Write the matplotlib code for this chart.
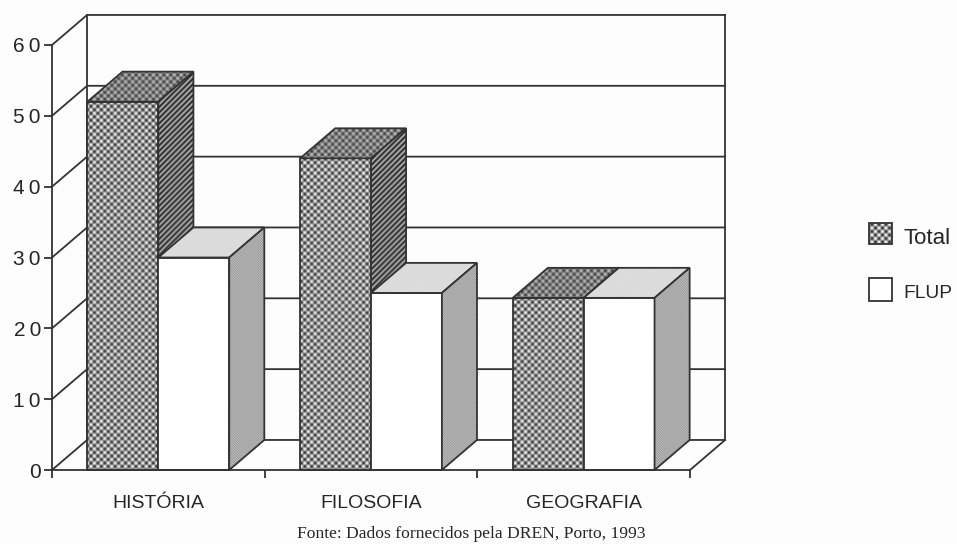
import numpy as np
import matplotlib
matplotlib.use('Agg')
import matplotlib.pyplot as plt
from matplotlib.patches import Polygon

categories = ['HISTÓRIA', 'FILOSOFIA', 'GEOGRAFIA']
total = [52, 44, 24.3]
flup = [30, 25, 24.3]
y_ticks = [0, 10, 20, 30, 40, 50, 60]
y_labels = ['0', '1\u20090', '2\u20090', '3\u20090', '4\u20090', '5\u20090', '6\u20090']
source = 'Fonte: Dados fornecidos pela DREN, Porto, 1993'

W, H = 957, 544
line_c = '#333333'
text_c = '#262626'
lw = 1.3
depth_x = 0.165
depth_y = 4.24
bar_w = 1 / 3
group_off = 1 / 6

plt.rcParams['font.family'] = ['Liberation Sans', 'DejaVu Sans']


def tex_value(kind, px, py):
    if kind == 'dots':
        v = 0.5 + 0.5 * np.cos(2 * np.pi * px / 7) * np.cos(2 * np.pi * py / 7)
        return 0.18 + 0.8 * v
    if kind == 'dots_dark':
        v = 0.5 + 0.5 * np.cos(2 * np.pi * px / 7) * np.cos(2 * np.pi * py / 7)
        return 0.22 + 0.55 * v
    if kind == 'stripes':
        return 0.42 + 0.3 * np.cos(2 * np.pi * (px - py) / 5.5)
    if kind == 'fine_light':
        return 0.86 + 0.07 * np.cos(np.pi * (px + py) * 0.8)
    if kind == 'fine_mid':
        return 0.67 + 0.12 * np.cos(np.pi * (px + py) * 0.8)
    return np.ones_like(px, dtype=float)


def face(ax, verts, kind, z):
    verts = np.array(verts, dtype=float)
    poly = Polygon(verts, closed=True, facecolor='none', edgecolor=line_c,
                   linewidth=lw, zorder=z + 0.1, clip_on=False)
    ax.add_patch(poly)
    x0, x1 = verts[:, 0].min(), verts[:, 0].max()
    y0, y1 = verts[:, 1].min(), verts[:, 1].max()
    (px0, py0), (px1, py1) = ax.transData.transform([(x0, y0), (x1, y1)])
    nx, ny = max(int(px1 - px0), 2), max(int(py1 - py0), 2)
    gx, gy = np.meshgrid(np.linspace(px0, px1, nx), np.linspace(py1, py0, ny))
    im = ax.imshow(tex_value(kind, gx, gy), extent=(x0, x1, y0, y1), aspect='auto',
                   cmap='gray', vmin=0, vmax=1, interpolation='bilinear', zorder=z)
    im.set_clip_path(poly)
    im.set_clip_on(True)


def bar3d(ax, x, h, front, top, side, z):
    x2 = x + bar_w
    face(ax, [(x, 0), (x2, 0), (x2, h), (x, h)], front, z)
    face(ax, [(x, h), (x2, h), (x2 + depth_x, h + depth_y), (x + depth_x, h + depth_y)], top, z + 0.2)
    face(ax, [(x2, 0), (x2 + depth_x, depth_y), (x2 + depth_x, h + depth_y), (x2, h)], side, z + 0.4)


fig = plt.figure(figsize=(W / 100, H / 100), dpi=100, facecolor='#fdfdfd')
ax = fig.add_axes([52 / W, (H - 470) / H, 638 / W, 425 / H])
ax.patch.set_alpha(0)
ax.set_xlim(0, 3)
ax.set_ylim(0, 60)

# walls and grid
for v in y_ticks:
    ax.plot([0, depth_x, 3 + depth_x], [v, v + depth_y, v + depth_y], color=line_c, lw=lw,
            clip_on=False, zorder=1)
ax.plot([depth_x, depth_x], [depth_y, 60 + depth_y], color=line_c, lw=lw, clip_on=False, zorder=1)
ax.plot([3 + depth_x, 3 + depth_x], [depth_y, 60 + depth_y], color=line_c, lw=lw, clip_on=False, zorder=1)
ax.plot([3, 3 + depth_x], [0, depth_y], color=line_c, lw=lw, clip_on=False, zorder=1)

for i in range(len(categories)):
    bar3d(ax, i + group_off, total[i], 'dots', 'dots_dark', 'stripes', 2 + i * 2)
    bar3d(ax, i + group_off + bar_w, flup[i], 'white', 'fine_light', 'fine_mid', 3 + i * 2)

ax.set_xlim(0, 3)
ax.set_ylim(0, 60)

for s in ['top', 'right']:
    ax.spines[s].set_visible(False)
for s in ['left', 'bottom']:
    ax.spines[s].set_color(line_c)
    ax.spines[s].set_linewidth(lw)
    ax.spines[s].set_zorder(20)
ax.set_yticks(y_ticks)
ax.set_yticklabels(y_labels, fontsize=15, color=text_c)
ax.set_xticks([0, 1, 2, 3])
ax.set_xticklabels([])
ax.set_xticks([0.5, 1.5, 2.5], minor=True)
ax.set_xticklabels(categories, minor=True, fontsize=14, color=text_c)
ax.tick_params(axis='both', which='major', length=6, width=lw, color=line_c, pad=2)
ax.tick_params(axis='x', which='minor', length=0, pad=18)

fig.text(471 / W, 1 - 534 / H, source, family='Liberation Serif', fontsize=12.6,
         color=text_c, ha='center', va='center')

# legend
lg = fig.add_axes([0, 0, 1, 1])
lg.patch.set_alpha(0)
lg.set_xlim(0, W)
lg.set_ylim(H, 0)
lg.axis('off')
xa, xb = 869, 892
sw = np.array([(xa, 244), (xb, 244), (xb, 223), (xa, 223)], dtype=float)
lg.add_patch(Polygon(sw, facecolor='none', edgecolor=line_c, lw=lw, zorder=3))
tx, ty = np.meshgrid(np.arange(xa, xb), np.arange(223, 244))
tim = lg.imshow(tex_value('dots', tx, ty), extent=(xa, xb, 244, 223), aspect='auto',
                cmap='gray', vmin=0, vmax=1, zorder=2)
lg.set_xlim(0, W)
lg.set_ylim(H, 0)
lg.add_patch(Polygon([(xa, 301), (xb, 301), (xb, 278), (xa, 278)], facecolor='white',
                     edgecolor=line_c, lw=lw, zorder=3))
lg.text(904, 238, 'Total', fontsize=16, color=text_c, va='center', ha='left')
lg.text(903, 293, 'FLUP', fontsize=13.8, color=text_c, va='center', ha='left')

fig.savefig('out.png', dpi=100, facecolor=fig.get_facecolor())
